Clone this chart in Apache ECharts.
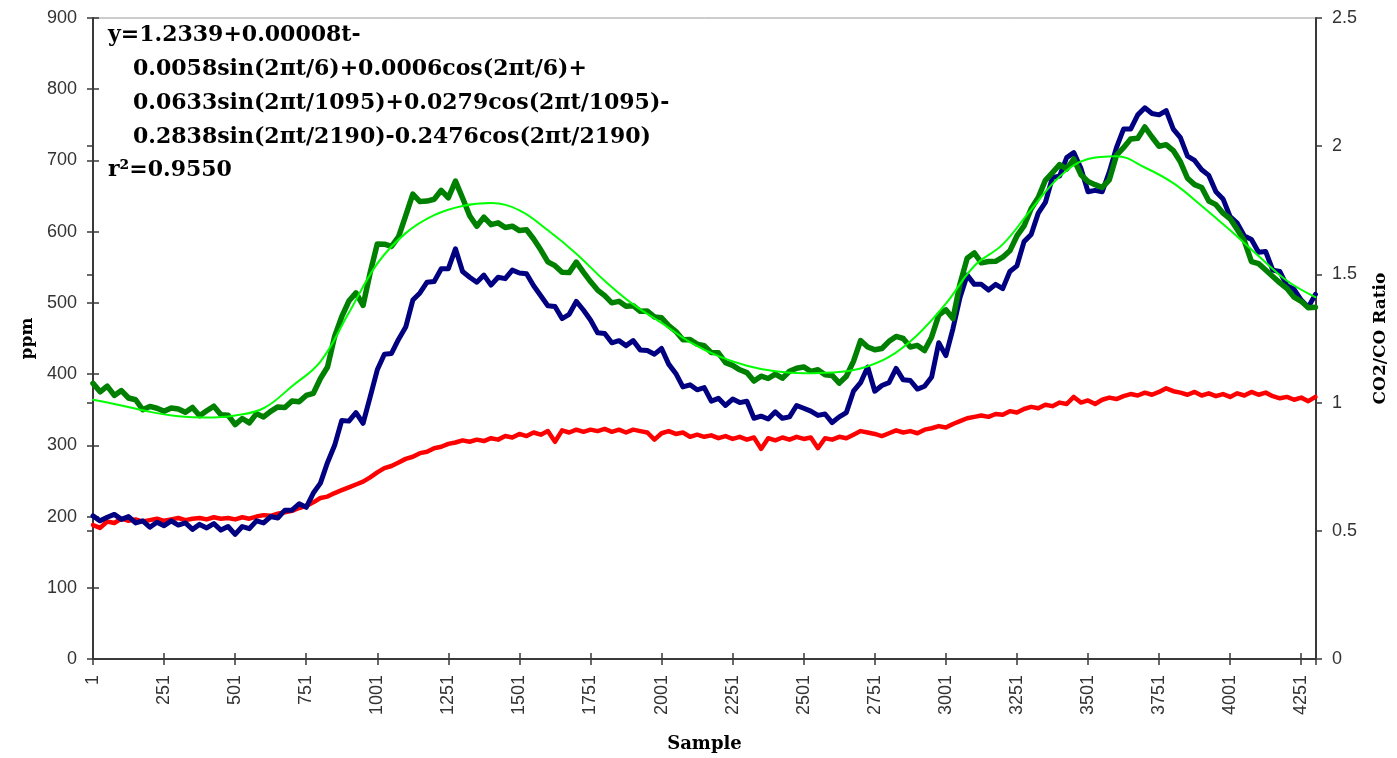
<!DOCTYPE html>
<html>
<head>
<meta charset="utf-8">
<script src="https://cdn.jsdelivr.net/npm/echarts@6/dist/echarts.min.js"></script>
<style>
  html, body { margin: 0; padding: 0; background: #ffffff; }
  #chart { width: 1397px; height: 758px; }
</style>
</head>
<body>
<div id="chart"></div>
<script>
// Readings are stored every STEP samples, starting at sample 1.
const STEP = 25;

// Navy trace, ppm (left axis)
const blueTrace = [
  201,194,199,203,196,200,191,194,185,192,
  187,194,188,191,182,189,184,190,181,186,
  175,186,183,194,191,200,198,209,209,218,
  213,233,247,276,300,335,334,346,331,368,
  406,428,429,449,466,504,514,529,530,548,
  548,576,544,536,529,539,525,536,534,546,
  542,541,524,510,496,495,478,484,502,490,
  476,458,457,444,447,440,447,434,433,428,
  436,414,401,382,385,378,381,362,366,356,
  365,360,362,338,341,337,347,338,340,356,
  352,348,342,344,332,340,346,376,388,410,
  376,384,388,408,392,391,379,383,396,444,
  426,464,508,539,526,526,518,526,520,544,
  552,586,596,626,641,676,678,704,711,689,
  656,658,656,684,718,744,744,764,774,766,
  764,770,744,732,706,700,687,679,656,646,
  621,612,594,589,571,572,546,544,524,519,
  504,494,512
];

// Red trace, ppm (left axis)
const redTrace = [
  188,184,193,191,197,194,196,193,195,197,
  194,196,198,195,197,198,196,199,197,198,
  196,199,197,200,202,201,204,206,208,212,
  215,220,226,228,233,237,241,245,249,255,
  262,268,271,276,281,284,289,291,296,298,
  302,304,307,305,308,306,310,308,313,311,
  316,313,318,315,320,305,321,318,322,319,
  322,320,323,319,322,318,322,320,318,308,
  317,320,316,318,312,315,312,314,310,313,
  309,312,308,311,295,310,307,311,308,312,
  309,311,296,310,308,312,310,315,320,318,
  316,313,317,321,318,320,317,322,324,327,
  325,330,334,338,340,342,340,344,343,348,
  346,351,354,352,357,355,360,358,368,360,
  363,358,364,367,365,369,372,370,374,371,
  375,380,376,374,371,375,370,373,369,372,
  368,373,370,375,371,374,369,366,368,364,
  367,362,368
];

// CO2/CO ratio (right axis)
const ratioTrace = [
  1.075,1.042,1.064,1.028,1.047,1.018,1.011,0.972,0.985,0.978,
  0.966,0.979,0.975,0.962,0.981,0.949,0.968,0.986,0.953,0.951,
  0.914,0.938,0.921,0.957,0.944,0.966,0.983,0.981,1.006,1.003,
  1.028,1.036,1.094,1.139,1.258,1.335,1.396,1.428,1.379,1.507,
  1.619,1.618,1.609,1.647,1.729,1.813,1.784,1.786,1.793,1.828,
  1.799,1.864,1.798,1.729,1.688,1.723,1.694,1.701,1.683,1.688,
  1.671,1.674,1.638,1.596,1.549,1.534,1.508,1.507,1.548,1.509,
  1.472,1.439,1.417,1.389,1.395,1.376,1.378,1.356,1.357,1.334,
  1.331,1.300,1.278,1.245,1.246,1.228,1.222,1.195,1.194,1.156,
  1.145,1.128,1.117,1.084,1.103,1.094,1.111,1.095,1.122,1.134,
  1.139,1.122,1.128,1.109,1.106,1.076,1.103,1.161,1.242,1.217,
  1.206,1.211,1.239,1.258,1.250,1.217,1.223,1.203,1.256,1.341,
  1.362,1.328,1.464,1.563,1.584,1.545,1.550,1.551,1.567,1.592,
  1.650,1.689,1.756,1.800,1.867,1.897,1.928,1.911,1.950,1.889,
  1.862,1.850,1.839,1.869,1.964,1.994,2.028,2.031,2.075,2.036,
  2.000,2.006,1.983,1.939,1.875,1.850,1.839,1.786,1.772,1.739,
  1.717,1.675,1.631,1.550,1.542,1.517,1.492,1.467,1.445,1.411,
  1.395,1.370,1.372
];

// Fitted ratio curve, every 100 samples from sample 1 (right axis)
const FIT_STEP = 100;
const fitRatio = [
  1.011,0.989,0.964,0.947,0.942,0.950,0.978,1.064,1.160,1.350,
  1.542,1.661,1.731,1.767,1.778,1.750,1.672,1.581,1.475,1.383,
  1.311,1.236,1.181,1.144,1.122,1.114,1.117,1.133,1.178,1.264,
  1.386,1.533,1.617,1.753,1.881,1.950,1.961,1.917,1.856,1.767,
  1.672,1.572,1.475,1.411
];

const xTickLabels = ['1','251','501','751','1001','1251','1501','1751','2001',
  '2251','2501','2751','3001','3251','3501','3751','4001','4251'];

const equationLines = [
  'y=1.2339+0.00008t-',
  '0.0058sin(2\u03c0t/6)+0.0006cos(2\u03c0t/6)+',
  '0.0633sin(2\u03c0t/1095)+0.0279cos(2\u03c0t/1095)-',
  '0.2838sin(2\u03c0t/2190)-0.2476cos(2\u03c0t/2190)',
  'r\u00b2=0.9550'
];

// The x axis runs on (sample - 1) so that ticks fall on multiples of 250.
function toPoints(values, step) {
  return values.map((v, i) => [i * step, v]);
}

const AXIS_COLOR = '#3a3a3a';
const tickFont = { fontFamily: 'Liberation Sans', fontSize: 18, color: '#333333' };
const titleFont = { fontFamily: 'DejaVu Serif', fontWeight: 'bold', fontSize: 17, color: '#000000' };
const eqFont = 'bold 22px "DejaVu Serif"';

const X_MAX = 4302;

function outerX() {
  return {
    type: 'value', min: 0, max: X_MAX, interval: 250, position: 'bottom',
    axisLine: { show: true, onZero: false, lineStyle: { color: AXIS_COLOR, width: 2 } },
    axisTick: { show: true, length: 6, lineStyle: { color: AXIS_COLOR, width: 1.5 } },
    axisLabel: {
      rotate: 90, margin: 16, ...tickFont,
      formatter: v => (v % 250 === 0 && xTickLabels[v / 250] !== undefined) ? xTickLabels[v / 250] : ''
    },
    splitLine: { show: false },
    name: 'Sample', nameLocation: 'middle', nameGap: 76,
    nameTextStyle: { ...titleFont, fontSize: 18 }
  };
}
function innerX() {
  return {
    type: 'value', min: 0, max: X_MAX, interval: 250, position: 'bottom',
    axisLine: { show: false },
    axisTick: { show: true, inside: true, length: 6, lineStyle: { color: AXIS_COLOR, width: 1.5 } },
    axisLabel: { show: false }, splitLine: { show: false }
  };
}
function yAxisPair(side, max, interval, name, gap) {
  return [
    {
      type: 'value', position: side, min: 0, max: max, interval: interval,
      axisLine: { show: true, onZero: false, lineStyle: { color: AXIS_COLOR, width: 2 } },
      axisTick: { show: true, length: 6, lineStyle: { color: AXIS_COLOR, width: 1.5 } },
      axisLabel: { margin: 16, ...tickFont },
      splitLine: { show: false },
      name: name, nameLocation: 'middle', nameRotate: 90, nameGap: gap,
      nameTextStyle: titleFont
    },
    {
      type: 'value', position: side, min: 0, max: max, interval: interval,
      axisLine: { show: false },
      axisTick: { show: true, inside: true, length: 6, lineStyle: { color: AXIS_COLOR, width: 1.5 } },
      axisLabel: { show: false }, splitLine: { show: false }
    }
  ];
}

const traceStyle = (color, width) => ({
  type: 'line', showSymbol: false, symbol: 'none', animation: false,
  lineStyle: { color: color, width: width, join: 'round', cap: 'round' },
  itemStyle: { color: color }
});

const chart = echarts.init(document.getElementById('chart'), null, { renderer: 'canvas' });
chart.setOption({
  animation: false,
  backgroundColor: '#ffffff',
  grid: {
    left: 93, right: 80, top: 18, bottom: 99,
    show: true, borderColor: '#9a9a9a', borderWidth: 1, backgroundColor: 'transparent'
  },
  xAxis: [outerX(), innerX()],
  yAxis: [
    ...yAxisPair('left', 900, 100, 'ppm', 56),
    ...yAxisPair('right', 2.5, 0.5, 'CO2/CO Ratio', 56)
  ],
  series: [
    { ...traceStyle('#ff0000', 4.5), name: 'CO', xAxisIndex: 0, yAxisIndex: 0, data: toPoints(redTrace, STEP) },
    { ...traceStyle('#000080', 5), name: 'CO2', xAxisIndex: 0, yAxisIndex: 0, data: toPoints(blueTrace, STEP) },
    { ...traceStyle('#008000', 5.5), name: 'CO2/CO', xAxisIndex: 0, yAxisIndex: 2, data: toPoints(ratioTrace, STEP) },
    { ...traceStyle('#00ff00', 2), name: 'Fit', xAxisIndex: 0, yAxisIndex: 2, smooth: 0.4, data: toPoints(fitRatio, FIT_STEP) }
  ],
  graphic: equationLines.map((txt, i) => ({
    type: 'text',
    left: (i === 0 || i === 4) ? 108 : 133,
    top: [24, 58, 92, 126, 159][i],
    z: 100,
    style: { text: txt, font: eqFont, fill: '#000000' }
  }))
});
</script>
</body>
</html>
